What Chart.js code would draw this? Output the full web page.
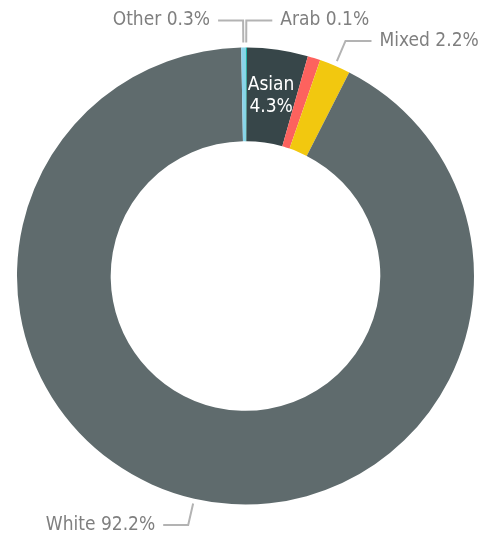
<!DOCTYPE html>
<html>
<head>
<meta charset="utf-8">
<script src="https://cdn.jsdelivr.net/npm/chart.js@4"></script>
<style>
  html, body { margin: 0; padding: 0; background: #fff; }
  #wrap { width: 485px; height: 536px; }
</style>
</head>
<body>
<div id="wrap"><canvas id="donut"></canvas></div>
<script>
const groups = ['Arab', 'Asian', 'Black', 'Mixed', 'White', 'Other'];
const shares = [0.1, 4.3, 0.9, 2.2, 92.2, 0.3];
const colours = ['#01B8AA', '#374649', '#FD625E', '#F2C80F', '#5F6B6D', '#8AD4EB'];
// which slices get an outside label, which one inside
const outside = ['Other', 'Arab', 'Mixed', 'White'];
const inside = ['Asian'];

const fontFamily = '"DejaVu Sans Condensed", "DejaVu Sans", sans-serif';

const labelPlugin = {
    id: 'sliceLabels',
    afterDatasetsDraw(chart) {
        const c = chart.ctx;
        const arcs = chart.getDatasetMeta(0).data;
        c.save();
        c.font = '19px ' + fontFamily;
        c.textBaseline = 'middle';
        arcs.forEach((arc, i) => {
            const name = groups[i];
            const txt = name + ' ' + shares[i] + '%';
            const p = arc.getProps(['x', 'y', 'startAngle', 'endAngle', 'innerRadius', 'outerRadius'], true);
            const mid = (p.startAngle + p.endAngle) / 2;
            if (outside.includes(name)) {
                const r0 = p.outerRadius + 5;
                const r1 = p.outerRadius + 27;
                const x0 = p.x + Math.cos(mid) * r0, y0 = p.y + Math.sin(mid) * r0;
                const x1 = p.x + Math.cos(mid) * r1, y1 = p.y + Math.sin(mid) * r1;
                const right = Math.cos(mid) >= 0 && name !== 'Other';
                const x2 = x1 + (right ? 26 : -25);
                c.strokeStyle = '#b3b3b3';
                c.lineWidth = 2;
                c.beginPath();
                c.moveTo(x0, y0);
                c.lineTo(x1, y1);
                c.lineTo(x2, y1);
                c.stroke();
                c.fillStyle = '#7f7f7f';
                c.textAlign = right ? 'left' : 'right';
                c.fillText(txt, x2 + (right ? 8 : -8), y1);
            } else if (inside.includes(name)) {
                const rm = (p.innerRadius + p.outerRadius) / 2;
                const x = p.x + Math.cos(mid) * rm, y = p.y + Math.sin(mid) * rm;
                c.fillStyle = '#ffffff';
                c.textAlign = 'center';
                c.fillText(name, x, y - 11);
                c.fillText(shares[i] + '%', x, y + 11);
            }
        });
        c.restore();
    }
};

new Chart(document.getElementById('donut'), {
    type: 'doughnut',
    data: {
        labels: groups,
        datasets: [{
            data: shares,
            backgroundColor: colours,
            borderWidth: 0
        }]
    },
    options: {
        responsive: true,
        maintainAspectRatio: false,
        animation: false,
        cutout: '59%',
        layout: { padding: { top: 47, bottom: 31, left: 17, right: 11 } },
        plugins: {
            legend: { display: false },
            tooltip: { enabled: false }
        }
    },
    plugins: [labelPlugin]
});
</script>
</body>
</html>
